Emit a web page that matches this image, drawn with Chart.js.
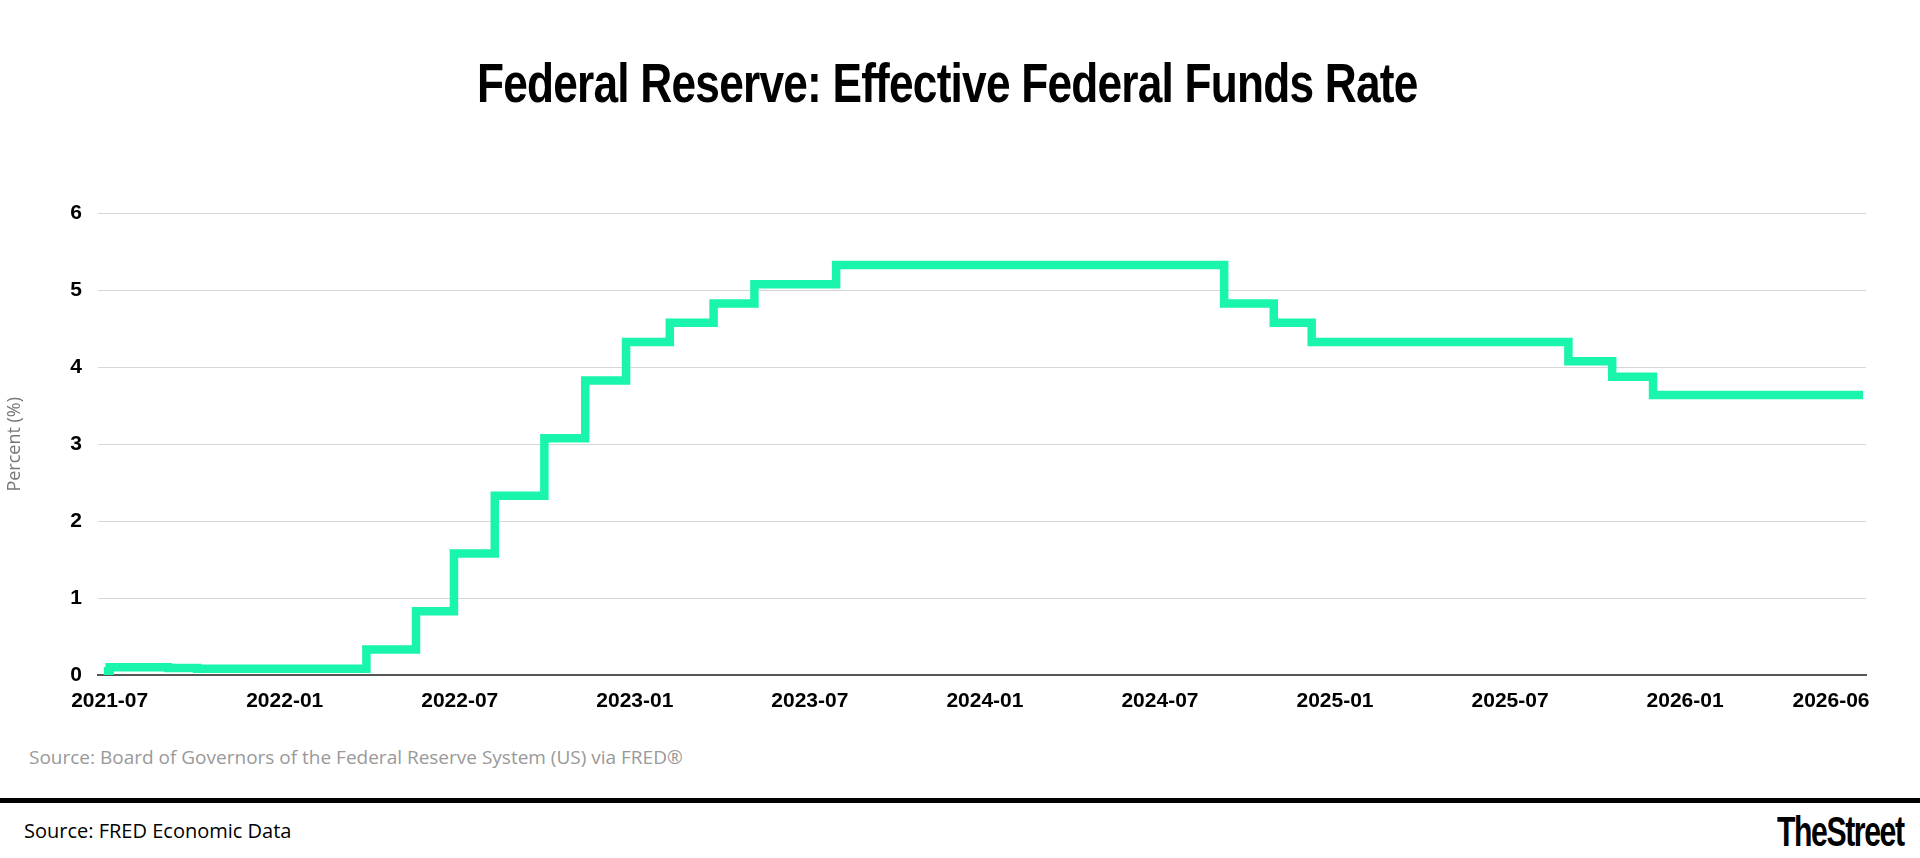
<!DOCTYPE html>
<html><head><meta charset="utf-8">
<script src="https://cdn.jsdelivr.net/npm/chart.js@4/dist/chart.umd.min.js"></script>
<style>
body{margin:0;width:1920px;height:858px;background:#fff;position:relative;overflow:hidden;font-family:'Open Sans',sans-serif}
#title{position:absolute;top:50px;left:0;width:1894px;text-align:center;font:bold 56px 'Liberation Sans Narrow',sans-serif;color:#000;letter-spacing:-1px}
#title span{display:inline-block;transform:scaleX(0.79)}
#wrap{position:absolute;left:0;top:185px;width:1886px;height:538px}
#src{position:absolute;left:29px;top:744px;font-size:19px;color:#999}
#rule{position:absolute;left:0;top:798px;width:1920px;height:5px;background:#000}
#foot{position:absolute;left:24px;top:817px;font-size:20px;color:#000}
#logo{position:absolute;left:1777px;top:808px;font:bold 42px 'Liberation Sans Narrow',sans-serif;letter-spacing:-2px;transform:scaleX(0.72);transform-origin:left}
</style></head><body>
<div id="title"><span>Federal Reserve: Effective Federal Funds Rate</span></div>
<div id="wrap"><canvas id="c"></canvas></div>
<div id="src">Source: Board of Governors of the Federal Reserve System (US) via FRED®</div>
<div id="rule"></div>
<div id="foot">Source: FRED Economic Data</div>
<div id="logo">TheStreet</div>
<script>
// month index: 0 = 2021-07
const stepMonths=[-0.2,0,1,2,3,4,5,6,7,8,8.8,10.5,11.8,13.2,14.9,16.3,17.7,19.2,20.7,22.1,24.9,38.2,39.9,41.2,50,51.5,52.9,60.1];
const rates=[0.05,0.10,0.10,0.09,0.08,0.08,0.08,0.08,0.08,0.08,0.33,0.83,1.58,2.33,3.08,3.83,4.33,4.58,4.83,5.08,5.33,4.83,4.58,4.33,4.08,3.88,3.64,3.64];
const tickMonths=[0,6,12,18,24,30,36,42,48,54,59];
const tickLabels=['2021-07','2022-01','2022-07','2023-01','2023-07','2024-01','2024-07','2025-01','2025-07','2026-01','2026-06'];
const pts=stepMonths.map((m,i)=>({x:m,y:rates[i]}));
const tf={family:"'Liberation Sans Narrow',sans-serif",weight:'bold',size:21};
new Chart(document.getElementById('c'),{type:'line',
data:{datasets:[{data:pts,borderColor:'#19f5ad',borderWidth:8.5,stepped:true,pointRadius:0,fill:false}]},
options:{responsive:true,maintainAspectRatio:false,animation:false,
layout:{padding:{top:20,right:20}},
plugins:{legend:{display:false},tooltip:{enabled:false}},
scales:{
x:{type:'linear',min:-0.4,max:60.2,
 afterBuildTicks:a=>{a.ticks=tickMonths.map(v=>({value:v}));},
 ticks:{color:'#000',font:tf,maxRotation:0,autoSkip:false,padding:6,callback:v=>tickLabels[tickMonths.indexOf(v)]},
 grid:{display:false},border:{color:'#555',width:2},
 afterFit:a=>{a.height=48;}},
y:{min:0,max:6,
 ticks:{stepSize:1,color:'#000',font:tf,padding:16},
 grid:{color:'#d6d6d6',drawTicks:false},border:{display:false},
 title:{display:true,text:'Percent (%)',color:'#777',font:{family:"'Open Sans',sans-serif",size:18}},
 afterFit:a=>{a.width=98;}}
}}});
</script></body></html>
